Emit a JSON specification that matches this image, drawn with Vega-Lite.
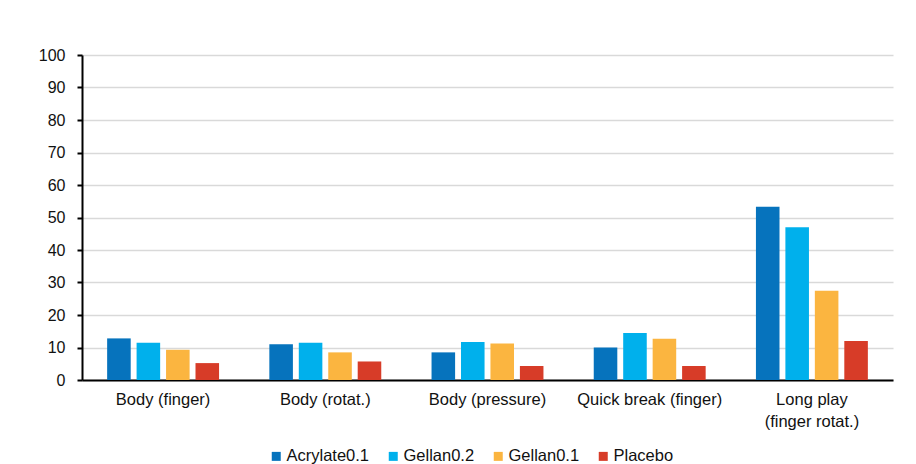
{
  "$schema": "https://vega.github.io/schema/vega-lite/v6.json",
  "width": 811,
  "height": 325,
  "autosize": {"type": "none"},
  "padding": {"left": 82, "top": 55, "right": 23, "bottom": 84},
  "background": "white",
  "data": {
    "values": [
      {"test": "Body (finger)", "product": "Acrylate0.1", "value": 12.8},
      {"test": "Body (finger)", "product": "Gellan0.2", "value": 11.5},
      {"test": "Body (finger)", "product": "Gellan0.1", "value": 9.3},
      {"test": "Body (finger)", "product": "Placebo", "value": 5.2},
      {"test": "Body (rotat.)", "product": "Acrylate0.1", "value": 11.0},
      {"test": "Body (rotat.)", "product": "Gellan0.2", "value": 11.5},
      {"test": "Body (rotat.)", "product": "Gellan0.1", "value": 8.5},
      {"test": "Body (rotat.)", "product": "Placebo", "value": 5.7},
      {"test": "Body (pressure)", "product": "Acrylate0.1", "value": 8.5},
      {"test": "Body (pressure)", "product": "Gellan0.2", "value": 11.7},
      {"test": "Body (pressure)", "product": "Gellan0.1", "value": 11.2},
      {"test": "Body (pressure)", "product": "Placebo", "value": 4.3},
      {"test": "Quick break (finger)", "product": "Acrylate0.1", "value": 10.0},
      {"test": "Quick break (finger)", "product": "Gellan0.2", "value": 14.5},
      {"test": "Quick break (finger)", "product": "Gellan0.1", "value": 12.7},
      {"test": "Quick break (finger)", "product": "Placebo", "value": 4.3},
      {"test": "Long play (finger rotat.)", "product": "Acrylate0.1", "value": 53.3},
      {"test": "Long play (finger rotat.)", "product": "Gellan0.2", "value": 47.0},
      {"test": "Long play (finger rotat.)", "product": "Gellan0.1", "value": 27.5},
      {"test": "Long play (finger rotat.)", "product": "Placebo", "value": 12.0}
    ]
  },
  "mark": {"type": "bar"},
  "encoding": {
    "x": {
      "field": "test",
      "type": "nominal",
      "sort": ["Body (finger)", "Body (rotat.)", "Body (pressure)", "Quick break (finger)", "Long play (finger rotat.)"],
      "scale": {"paddingInner": 0.31, "paddingOuter": 0.155},
      "axis": {
        "title": null,
        "labelAngle": 0,
        "ticks": false,
        "labelPadding": 11,
        "labelFontSize": 16.5,
        "labelLineHeight": 22,
        "labelExpr": "datum.value == 'Long play (finger rotat.)' ? ['Long play', '(finger rotat.)'] : datum.label",
        "domainColor": "#000000",
        "domainWidth": 2
      }
    },
    "xOffset": {
      "field": "product",
      "type": "nominal",
      "sort": ["Acrylate0.1", "Gellan0.2", "Gellan0.1", "Placebo"],
      "scale": {"paddingInner": 0.2, "paddingOuter": 0}
    },
    "y": {
      "field": "value",
      "type": "quantitative",
      "scale": {"domain": [0, 100], "nice": false},
      "axis": {
        "title": null,
        "values": [0, 10, 20, 30, 40, 50, 60, 70, 80, 90, 100],
        "labelFontSize": 16,
        "labelPadding": 12,
        "tickSize": 5,
        "tickColor": "#000000",
        "tickWidth": 2,
        "domainColor": "#000000",
        "domainWidth": 2,
        "gridColor": "#d9d9d9",
        "gridWidth": 1.5
      }
    },
    "color": {
      "field": "product",
      "type": "nominal",
      "sort": ["Acrylate0.1", "Gellan0.2", "Gellan0.1", "Placebo"],
      "scale": {
        "domain": ["Acrylate0.1", "Gellan0.2", "Gellan0.1", "Placebo"],
        "range": ["#0673bd", "#00b0ec", "#fbb540", "#d73c28"]
      },
      "legend": {
        "title": null,
        "orient": "none",
        "direction": "horizontal",
        "legendX": 186,
        "legendY": 393,
        "padding": 0,
        "symbolType": "square",
        "symbolSize": 81,
        "symbolStrokeWidth": 0,
        "labelFontSize": 16.5,
        "labelOffset": 2,
        "columnPadding": 15
      }
    }
  },
  "config": {
    "font": "Liberation Sans",
    "view": {"stroke": null},
    "axis": {"labelColor": "#111111", "labelFont": "Liberation Sans"},
    "legend": {"labelColor": "#111111", "labelFont": "Liberation Sans"}
  }
}
